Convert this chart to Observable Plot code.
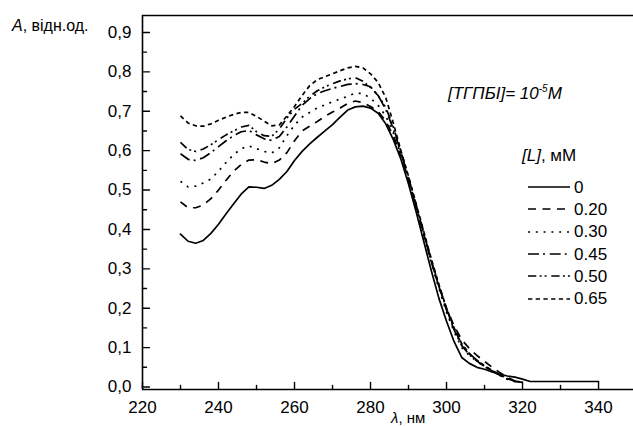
<!DOCTYPE html>
<html><head><meta charset="utf-8">
<script src="https://cdn.jsdelivr.net/npm/d3@7"></script>
<script src="https://cdn.jsdelivr.net/npm/@observablehq/plot@0.6"></script>
<style>
html,body{margin:0;padding:0;overflow:hidden;background:#fff;}
#wrap{position:relative;width:633px;height:426px;overflow:hidden;font-family:"Liberation Sans",Arial,sans-serif;color:#000;}
.lab{position:absolute;white-space:nowrap;line-height:1;}
.lab i{font-style:italic;}
#wrap svg.plot{position:absolute;left:0;top:0;}
</style></head><body><div id="wrap"></div>
<script>
// wavelengths (nm)
const wl = [230,232,234,236,238,240,242,244,246,248,250,252,254,256,258,260,262,264,266,268,270,272,274,276,278,280,282,284,286,288,290,292,294,296,298,300,302,304,306,308,310,312,314,316,318,320];
// absorbance for each ligand concentration
const a0  = [0.388,0.370,0.365,0.372,0.390,0.413,0.440,0.465,0.490,0.508,0.507,0.504,0.512,0.527,0.547,0.575,0.598,0.617,0.634,0.650,0.666,0.685,0.703,0.711,0.713,0.708,0.695,0.668,0.628,0.578,0.515,0.445,0.370,0.295,0.225,0.167,0.115,0.075,0.060,0.050,0.045,0.038,0.033,0.028,0.025,0.020];
const wl0Tail = [322,340];
const a0Tail  = [0.014,0.014];
const a20 = [0.470,0.455,0.455,0.462,0.478,0.500,0.525,0.548,0.565,0.576,0.577,0.571,0.567,0.576,0.595,0.625,0.650,0.662,0.674,0.687,0.698,0.708,0.720,0.726,0.722,0.712,0.700,0.675,0.638,0.585,0.525,0.458,0.388,0.318,0.255,0.200,0.155,0.120,0.098,0.080,0.065,0.050,0.037,0.025,0.015,0.012];
const a30 = [0.522,0.508,0.510,0.518,0.528,0.548,0.570,0.590,0.605,0.612,0.605,0.598,0.594,0.607,0.638,0.665,0.685,0.697,0.708,0.716,0.724,0.731,0.738,0.746,0.745,0.733,0.715,0.688,0.645,0.590,0.525,0.455,0.385,0.315,0.250,0.190,0.140,0.100,0.080,0.065,0.052,0.040,0.030,0.020,0.014,0.012];
const a45 = [0.592,0.578,0.575,0.582,0.595,0.610,0.625,0.638,0.648,0.651,0.640,0.630,0.626,0.636,0.660,0.688,0.715,0.732,0.745,0.752,0.758,0.763,0.768,0.770,0.768,0.762,0.740,0.705,0.655,0.595,0.530,0.460,0.390,0.320,0.255,0.195,0.145,0.105,0.082,0.066,0.052,0.040,0.030,0.020,0.014,0.012];
const a50 = [0.621,0.603,0.598,0.604,0.615,0.628,0.640,0.650,0.660,0.664,0.648,0.638,0.636,0.655,0.683,0.705,0.720,0.738,0.752,0.762,0.770,0.777,0.782,0.785,0.776,0.760,0.740,0.710,0.660,0.598,0.532,0.462,0.392,0.322,0.258,0.198,0.148,0.108,0.085,0.068,0.053,0.041,0.031,0.021,0.015,0.012];
const a65 = [0.688,0.670,0.663,0.662,0.668,0.677,0.685,0.692,0.697,0.697,0.687,0.675,0.663,0.665,0.688,0.712,0.740,0.765,0.780,0.788,0.795,0.803,0.810,0.814,0.810,0.795,0.773,0.735,0.670,0.600,0.535,0.465,0.395,0.325,0.260,0.200,0.150,0.110,0.085,0.068,0.054,0.042,0.032,0.022,0.015,0.012];

const concLabels = ["0","0.20","0.30","0.45","0.50","0.65"];
const xMajor = [220,240,260,280,300,320,340];
const xMinor = [230,250,270,290,310,330];
const yMajor = [0,0.1,0.2,0.3,0.4,0.5,0.6,0.7,0.8,0.9];
const yMinor = [0.05,0.15,0.25,0.35,0.45,0.55,0.65,0.75,0.85];

// styles
const dashes = [null,"8,6.5","2,5.8","11,4,2,4.7","8.3,3.3,2,3,2,4.7","4.3,3.4"];
const SW = 1.7;

const seriesVals = [a0,a20,a30,a45,a50,a65];
const series = seriesVals.map((vals,i) => {
  const rows = wl.map((w,j) => ({wl:w, a:vals[j]}));
  if (i === 0) wl0Tail.forEach((w,j) => rows.push({wl:w, a:a0Tail[j]}));
  return rows;
});

const X0 = 220, X1 = 349.2, Y0 = -0.0063, Y1 = 0.943;
const tickShape = {draw(ctx, l){ ctx.moveTo(0,0); ctx.lineTo(0,-l); }};
const fmtY = d => d3.format(".1f")(d).replace(".", ",");

const marks = [
  ...series.map((rows,i) => Plot.line(rows, {x:"wl", y:"a", stroke:"black", strokeWidth:SW, strokeDasharray: dashes[i] || undefined, strokeLinecap: dashes[i] ? "butt" : "round"})),
  Plot.ruleX([X0], {stroke:"black", strokeWidth:1.6}),
  Plot.ruleY([Y1], {stroke:"black", strokeWidth:1.6}),
  Plot.ruleY([Y0], {stroke:"black", strokeWidth:1.6}),
  Plot.vector(yMajor, {x: () => X0, y: d => d, length: 7, rotate: 90, anchor: "start", shape: tickShape, stroke:"black", strokeWidth:1.4}),
  Plot.vector(yMinor, {x: () => X0, y: d => d, length: 4, rotate: 90, anchor: "start", shape: tickShape, stroke:"black", strokeWidth:1.4}),
  Plot.vector(xMajor, {x: d => d, y: () => Y0, length: 7, rotate: 0, anchor: "start", shape: tickShape, stroke:"black", strokeWidth:1.4}),
  Plot.vector(xMinor, {x: d => d, y: () => Y0, length: 4, rotate: 0, anchor: "start", shape: tickShape, stroke:"black", strokeWidth:1.4}),
  Plot.axisX(xMajor, {tickSize:0, tickPadding:11, fontSize:17, label:null}),
  Plot.axisY(yMajor, {tickSize:0, tickPadding:11, fontSize:17, tickFormat: fmtY, label:null})
];

const chart = Plot.plot({
  width: 633, height: 426,
  marginLeft: 142, marginRight: 0, marginTop: 15, marginBottom: 37,
  x: {domain:[X0, X1]},
  y: {domain:[Y0, Y1]},
  style: {fontFamily:'"Liberation Sans", Arial, sans-serif', color:"black", background:"white", overflow:"visible"},
  marks
});
chart.classList.add("plot");
const wrap = document.getElementById("wrap");
wrap.appendChild(chart);

function lab(html, left, top, size, extra) {
  const d = document.createElement("div");
  d.className = "lab";
  d.style.left = left + "px";
  d.style.top = top + "px";
  d.style.fontSize = size + "px";
  if (extra) Object.assign(d.style, extra);
  d.innerHTML = html;
  wrap.appendChild(d);
  return d;
}
lab('<i>A</i>, відн.од.', 12, 18, 16);
lab('<i>[ТГПБІ]= 10<sup style="font-size:10px;vertical-align:7px;line-height:0">-5</sup>M</i>', 448, 85, 17);
lab('<i>[L]</i>, мМ', 522, 147, 17);
lab('<i>λ</i>, нм', 391, 410, 15);

// legend
concLabels.forEach((c,i) => {
  const cy = 187 + i*22.3;
  const s = document.createElementNS("http://www.w3.org/2000/svg","svg");
  s.setAttribute("width","44"); s.setAttribute("height","6");
  s.style.position = "absolute"; s.style.left = "527px"; s.style.top = (cy-3) + "px";
  const ln = document.createElementNS("http://www.w3.org/2000/svg","line");
  ln.setAttribute("x1","1"); ln.setAttribute("x2","43"); ln.setAttribute("y1","3"); ln.setAttribute("y2","3");
  ln.setAttribute("stroke","black"); ln.setAttribute("stroke-width", String(SW));
  if (dashes[i]) ln.setAttribute("stroke-dasharray", dashes[i]);
  s.appendChild(ln);
  wrap.appendChild(s);
  lab(c, 574, cy - 8.3, 17);
});
</script></body></html>
